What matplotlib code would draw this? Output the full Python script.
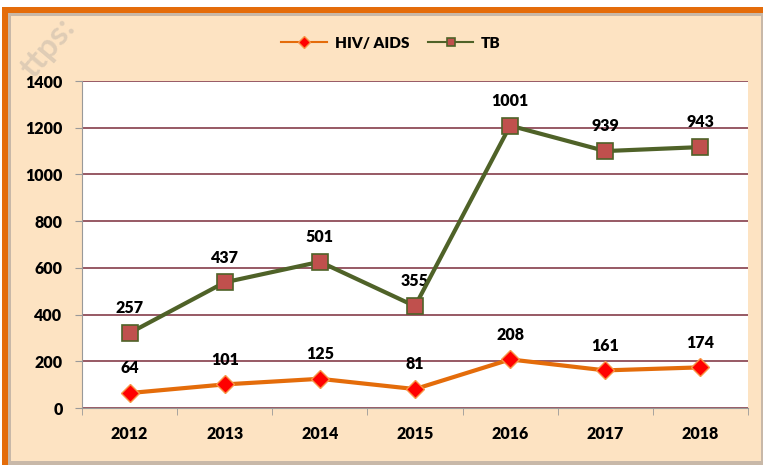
import matplotlib.pyplot as plt
from matplotlib.patches import Rectangle
import numpy as np

# Data
years = ["2012", "2013", "2014", "2015", "2016", "2017", "2018"]
hiv = [64, 101, 125, 81, 208, 161, 174]
tb = [257, 437, 501, 355, 1001, 939, 943]

plt.rcParams['font.family'] = ['Lato', 'DejaVu Sans']

fig = plt.figure(figsize=(7.63, 4.65), dpi=100)
W, H = 763, 465

# outer frame: orange border, shadow, peach fill
fig.patches.append(Rectangle((2 / W, 0), 1, 1 - 7 / H, transform=fig.transFigure,
                             facecolor="#E46C0A", edgecolor="none", zorder=-3))
fig.patches.append(Rectangle((8 / W, 0), 1, 1 - 13 / H, transform=fig.transFigure,
                             facecolor="#C8B8A8", edgecolor="none", zorder=-2))
fig.patches.append(Rectangle((11 / W, 4 / H), 1 - 13 / W, 1 - 20 / H, transform=fig.transFigure,
                             facecolor="#FDE3C2", edgecolor="none", zorder=-1))

ax = fig.add_axes([82 / W, 1 - 408 / H, 666 / W, 327 / H])
ax.set_facecolor("white")

x = np.arange(len(years))
tb_stack = np.array(hiv) + np.array(tb)

ax.plot(x, hiv, color="#E46C0A", linewidth=3, marker="D", markersize=9,
        markerfacecolor="#FF0000", markeredgecolor="#F79646", markeredgewidth=1,
        label="HIV/ AIDS", zorder=4)
ax.plot(x, tb_stack, color="#4F6228", linewidth=3, marker="s", markersize=11,
        markerfacecolor="#C0504D", markeredgecolor="#4F6228", markeredgewidth=1.2,
        label="TB", zorder=4)

for i in range(len(years)):
    ax.annotate(str(hiv[i]), (x[i], hiv[i]), xytext=(0, 12), textcoords="offset points",
                ha="center", va="bottom", fontsize=11.5, fontweight="heavy", color="black")
    ax.annotate(str(tb[i]), (x[i], tb_stack[i]), xytext=(0, 12), textcoords="offset points",
                ha="center", va="bottom", fontsize=11.5, fontweight="heavy", color="black")

ax.set_xlim(-0.5, len(years) - 0.5)
ax.set_ylim(0, 1400)
ax.set_yticks(range(0, 1401, 200))
ax.set_xticks(x)
ax.set_xticklabels(years)
ax.set_xticks(np.arange(-0.5, len(years)), minor=True)
ax.tick_params(axis="x", which="major", length=0, pad=13, labelsize=11.5)
ax.tick_params(axis="x", which="minor", length=5, color="#999999", direction="out")
ax.tick_params(axis="y", length=5, color="#999999", pad=9, labelsize=11.5)
for lab in ax.get_xticklabels() + ax.get_yticklabels():
    lab.set_fontweight("heavy")

ax.yaxis.grid(True, color="#7B2C3A", linewidth=1.1)
ax.set_axisbelow(True)
for s in ["top", "right"]:
    ax.spines[s].set_visible(False)
ax.spines["left"].set_color("#999999")
ax.spines["bottom"].set_color("#999999")

leg = fig.legend(loc="center", bbox_to_anchor=(391 / W, 1 - 43 / H), ncol=2, frameon=False,
                 prop={"weight": "heavy", "size": 11}, handlelength=3, columnspacing=1.2,
                 handletextpad=0.5)
for h in leg.legend_handles:
    h.set_linewidth(1.5)
    h.set_markersize(6)

# faint watermark
fig.text(48 / W, 1 - 48 / H, "ttps:", rotation=50, fontsize=24, color="#999999",
         alpha=0.3, ha="center", va="center", fontweight="bold")

fig.savefig("out.png", dpi=100)
